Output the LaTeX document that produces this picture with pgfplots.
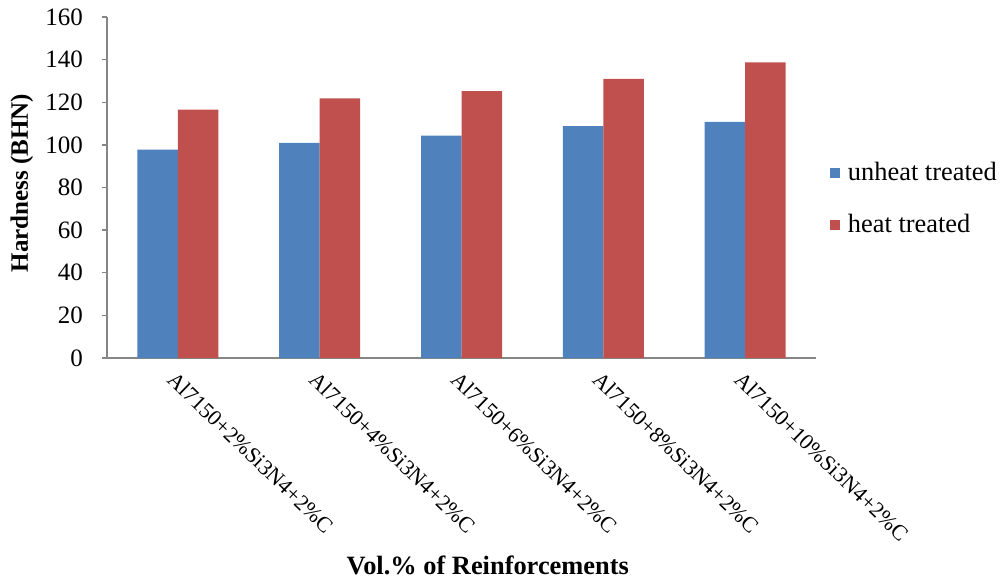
\documentclass[border=0pt]{standalone}
\usepackage{fontspec}
\setmainfont{Liberation Serif}
\usepackage{pgfplots}
\pgfplotsset{compat=1.18}

\definecolor{barblue}{HTML}{4F81BD}
\definecolor{barred}{HTML}{C0504D}
\definecolor{axgray}{HTML}{868686}

\begin{document}
\begin{tikzpicture}
\useasboundingbox (-53.5pt,-111pt) rectangle (446.5pt,179pt);
\begin{axis}[
  scale only axis,
  width=354.5pt, height=170.5pt,
  ybar=0pt, bar width=20.25pt,
  xmin=-0.5, xmax=4.5,
  ymin=0, ymax=160,
  ytick={0,20,...,160},
  xtick={0,1,2,3,4},
  xticklabels={Al7150+2\%Si3N4+2\%C, Al7150+4\%Si3N4+2\%C, Al7150+6\%Si3N4+2\%C, Al7150+8\%Si3N4+2\%C, Al7150+10\%Si3N4+2\%C},
  axis x line*=bottom, axis y line*=left,
  axis line style={axgray, line width=0.65pt},
  every tick/.style={axgray, line width=0.65pt},
  x tick style={draw=none},
  tick align=outside, major tick length=2.5pt,
  /pgf/number format/assume math mode=true,
  yticklabel style={font=\fontsize{12.5}{14}\selectfont, xshift=-6pt},
  xticklabel style={font=\fontsize{11}{13}\selectfont, rotate=-44, anchor=north west, inner sep=0pt, yshift=-3pt, xshift=2pt},
  ylabel={\textbf{Hardness (BHN)}},
  ylabel style={font=\fontsize{12.5}{14}\selectfont, at={(axis description cs:-0.12,0.513)}, anchor=center},
  xlabel={\textbf{Vol.\% of Reinforcements}},
  xlabel style={font=\fontsize{13.2}{15}\selectfont, at={(axis description cs:0.537,-0.607)}, anchor=center},
  legend style={draw=none, fill=none, at={(axis description cs:1.0197,0.466)}, anchor=west, inner sep=0pt,
    font=\fontsize{13.2}{15}\selectfont, row sep=11.5pt, legend cell align=left,
    nodes={inner xsep=3.8pt}},
  legend image code/.code={\fill[#1] (0pt,-2.5pt) rectangle (5pt,2.5pt);},
]
\addplot[fill=barblue, draw=none] coordinates {(0,97.8) (1,100.9) (2,104.4) (3,108.8) (4,110.8)};
\addplot[fill=barred, draw=none] coordinates {(0,116.6) (1,121.8) (2,125.2) (3,131.0) (4,138.7)};
\legend{unheat treated, heat treated}
\end{axis}
\end{tikzpicture}
\end{document}
